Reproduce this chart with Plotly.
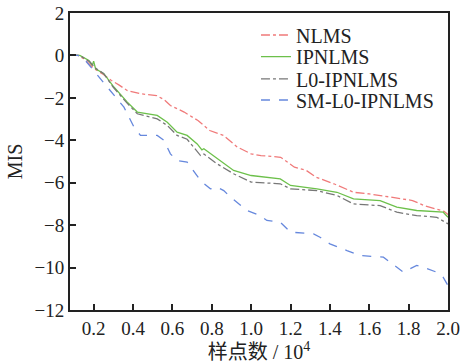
import plotly.graph_objects as go

series_names = ["NLMS", "IPNLMS", "L0-IPNLMS", "SM-L0-IPNLMS"]

nlms_x = [0.08, 0.12, 0.15, 0.2, 0.25, 0.29, 0.33, 0.37, 0.44, 0.52, 0.56, 0.59, 0.66, 0.73, 0.79, 0.86, 0.93, 1.0, 1.05, 1.15, 1.22, 1.28, 1.33, 1.42, 1.52, 1.6, 1.71, 1.82, 1.88, 1.94, 1.98, 2.0]
nlms_y = [0, 0, -0.15, -0.6, -0.9, -1.18, -1.4, -1.65, -1.81, -1.89, -2.1, -2.36, -2.67, -3.07, -3.54, -3.77, -4.32, -4.64, -4.72, -4.8, -5.27, -5.42, -5.74, -6.05, -6.45, -6.53, -6.68, -6.84, -7.08, -7.23, -7.35, -7.5]

ipnlms_x = [0.08, 0.13, 0.176, 0.193, 0.2, 0.21, 0.252, 0.303, 0.371, 0.422, 0.523, 0.574, 0.624, 0.675, 0.726, 0.75, 0.76, 0.827, 0.911, 1.0, 1.148, 1.2, 1.334, 1.436, 1.52, 1.655, 1.74, 1.841, 1.976, 2.0]
ipnlms_y = [0, 0, -0.24, -0.47, -0.27, -0.63, -0.86, -1.49, -2.2, -2.67, -2.83, -3.15, -3.62, -3.77, -4.17, -4.45, -4.4, -4.87, -5.42, -5.66, -5.82, -6.13, -6.29, -6.45, -6.76, -6.84, -7.15, -7.31, -7.39, -7.63]

l0_x = [0.08, 0.13, 0.18, 0.21, 0.25, 0.3, 0.37, 0.422, 0.523, 0.574, 0.624, 0.675, 0.743, 0.76, 0.827, 0.911, 1.0, 1.148, 1.2, 1.334, 1.436, 1.52, 1.655, 1.74, 1.841, 1.943, 2.0]
l0_y = [0, 0, -0.3, -0.6, -0.85, -1.5, -2.25, -2.75, -2.99, -3.3, -3.77, -3.95, -4.72, -4.65, -5.11, -5.58, -5.97, -6.05, -6.29, -6.37, -6.6, -7.0, -7.08, -7.39, -7.55, -7.63, -7.94]

sm_x = [0.08, 0.12, 0.151, 0.193, 0.236, 0.286, 0.354, 0.405, 0.438, 0.523, 0.557, 0.59, 0.624, 0.675, 0.743, 0.793, 0.825, 0.861, 0.895, 0.979, 1.047, 1.08, 1.148, 1.2, 1.317, 1.35, 1.4, 1.487, 1.554, 1.672, 1.74, 1.774, 1.807, 1.841, 1.875, 1.943, 1.976, 2.0]
sm_y = [0, 0, -0.16, -0.63, -1.1, -1.65, -2.44, -3.38, -3.77, -3.77, -4.0, -4.64, -4.95, -5.03, -5.9, -6.29, -6.2, -6.37, -6.68, -7.31, -7.55, -7.78, -7.86, -8.33, -8.41, -8.57, -8.88, -9.2, -9.43, -9.51, -9.98, -10.22, -10.06, -9.9, -9.98, -10.22, -10.46, -10.85]

x_ticks = [0.2, 0.4, 0.6, 0.8, 1.0, 1.2, 1.4, 1.6, 1.8, 2.0]
y_ticks = [-12, -10, -8, -6, -4, -2, 0, 2]

colors = ["#f07a7a", "#6cc04a", "#777777", "#6688dd"]
dashes = ["dashdot", "solid", "dashdot", "dash"]
xs = [nlms_x, ipnlms_x, l0_x, sm_x]
ys = [nlms_y, ipnlms_y, l0_y, sm_y]
legend_ids = ["legend", "legend2", "legend3", "legend4"]
legend_y = [0.926, 0.853, 0.778, 0.707]

font_family = "Liberation Serif, Noto Sans CJK SC, serif"

fig = go.Figure()
for name, x, y, c, d, lg in zip(series_names, xs, ys, colors, dashes, legend_ids):
    fig.add_trace(go.Scatter(x=x, y=y, mode="lines", name=name, legend=lg,
                             line=dict(color=c, dash=d, width=1.3)))

axis_common = dict(showline=True, linecolor="#222", linewidth=2, mirror=True,
                   ticks="inside", ticklen=6, tickwidth=1.5, tickcolor="#222",
                   showgrid=False, zeroline=False, automargin=False,
                   tickfont=dict(family=font_family, size=19, color="#222"))

fig.update_xaxes(range=[0.08, 2.0], tickvals=x_ticks, ticktext=[f"{v:.1f}" for v in x_ticks],
                 title=dict(text="样点数 / 10<sup>4</sup>", standoff=4,
                            font=dict(family=font_family, size=20, color="#222")),
                 **axis_common)
fig.update_yaxes(range=[-12, 2], tickvals=y_ticks,
                 title=dict(text="MIS", standoff=6,
                            font=dict(family=font_family, size=20, color="#222")),
                 **axis_common)

legend_layout = {}
for lg, ly in zip(legend_ids, legend_y):
    legend_layout[lg] = dict(x=0.492, y=ly, xanchor="left", yanchor="middle",
                             bgcolor="rgba(0,0,0,0)", borderwidth=0,
                             font=dict(family=font_family, size=20, color="#222"))

fig.update_layout(width=462, height=363,
                  margin=dict(l=70, r=14, t=13, b=53, autoexpand=False),
                  plot_bgcolor="white", paper_bgcolor="white",
                  showlegend=True, **legend_layout)

fig.write_html("out.html")
